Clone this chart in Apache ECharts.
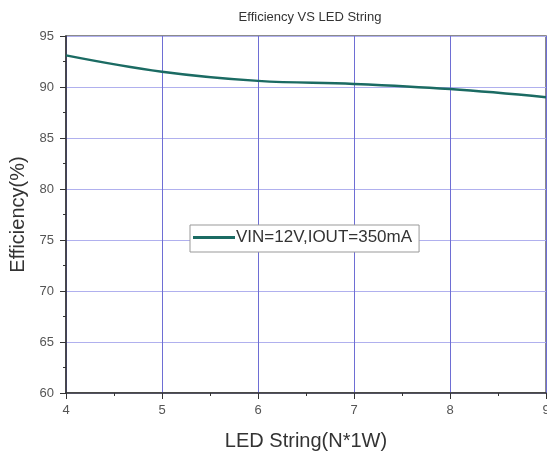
<!DOCTYPE html>
<html><head><meta charset="utf-8">
<script src="https://cdn.jsdelivr.net/npm/echarts@6/dist/echarts.min.js"></script>
<style>html,body{margin:0;padding:0;background:#fff}#c{width:547px;height:451px}</style>
</head><body><div id="c"></div>
<script>
const xValues = [4, 5, 6, 7, 8, 9];
const efficiency = [93.1, 91.5, 90.6, 90.3, 89.8, 89.0];
const seriesName = 'VIN=12V,IOUT=350mA';
const titleText = 'Efficiency VS LED String';
const xName = 'LED String(N*1W)';
const yName = 'Efficiency(%)';

const chart = echarts.init(document.getElementById('c'));
const F = 'Liberation Sans, Arial, sans-serif';
chart.setOption({
  animation: false,
  backgroundColor: '#fff',
  title: { text: titleText, left: 305, top: 6, textAlign: 'center',
    textStyle: { fontFamily: F, fontSize: 13, fontWeight: 'normal', color: '#333' } },
  grid: { left: 66, right: 1, top: 36, bottom: 58, show: true, borderColor: '#666', borderWidth: 1.5,
    backgroundColor: '#fff', containLabel: false, outerBoundsMode: 'none' },
  legend: {
    left: 190, top: 225, itemWidth: 42, itemHeight: 3, itemGap: 0,
    padding: [4, 7, 6, 3],
    borderColor: '#999', borderWidth: 1, backgroundColor: '#fff',
    textStyle: { fontFamily: F, fontSize: 17, color: '#333', padding: [0,0,0,-4] },
    data: [{ name: seriesName, icon: 'rect' }]
  },
  xAxis: {
    type: 'value', min: 4, max: 9, interval: 1,
    name: xName, nameLocation: 'middle', nameGap: 38,
    nameTextStyle: { fontFamily: F, fontSize: 20, color: '#333' },
    axisLine: { lineStyle: { color: '#333', width: 1.5 } },
    axisTick: { show: true, length: 6, lineStyle: { color: '#333' } },
    minorTick: { show: true, splitNumber: 2, length: 3, lineStyle: { color: '#333' } },
    axisLabel: { fontFamily: F, fontSize: 13, color: '#555', margin: 11 },
    splitLine: { show: true, lineStyle: { color: '#6e6ed4', width: 1 } }
  },
  yAxis: {
    type: 'value', min: 60, max: 95, interval: 5,
    name: yName, nameLocation: 'middle', nameGap: 38,
    nameTextStyle: { fontFamily: F, fontSize: 20, color: '#333' },
    axisLine: { show: true, lineStyle: { color: '#333', width: 1.5 } },
    axisTick: { show: true, length: 6, lineStyle: { color: '#333' } },
    minorTick: { show: true, splitNumber: 2, length: 3, lineStyle: { color: '#333' } },
    axisLabel: { fontFamily: F, fontSize: 13, color: '#555', margin: 12 },
    splitLine: { show: true, lineStyle: { color: '#b0b0ee', width: 1 } }
  },
  series: [{
    name: seriesName, type: 'line', smooth: 0.4, showSymbol: false,
    data: xValues.map((x, i) => [x, efficiency[i]]),
    lineStyle: { color: '#1b6b63', width: 2.4 },
    itemStyle: { color: '#1b6b63' }
  }]
});
</script></body></html>
